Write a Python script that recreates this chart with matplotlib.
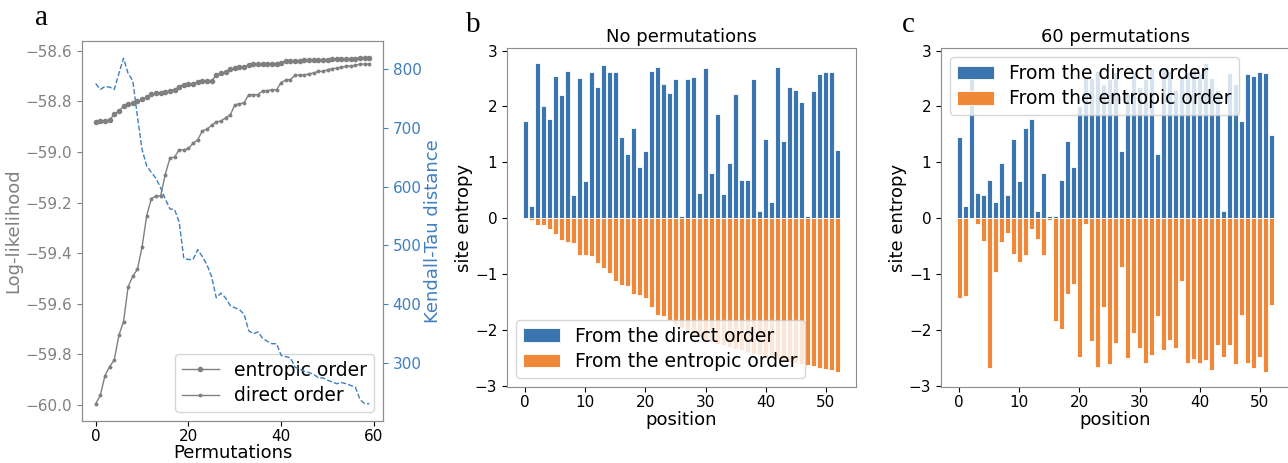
import matplotlib
matplotlib.use("Agg")
import matplotlib.pyplot as plt
import numpy as np

# ---------------- data ----------------
permutations = list(range(60))

ll_entropic = [-58.880, -58.878, -58.877, -58.873, -58.851, -58.839, -58.818, -58.811, -58.806, -58.800,
               -58.792, -58.783, -58.772, -58.767, -58.766, -58.764, -58.757, -58.753, -58.741, -58.733,
               -58.730, -58.730, -58.721, -58.720, -58.720, -58.719, -58.695, -58.689, -58.684, -58.673,
               -58.668, -58.665, -58.663, -58.657, -58.653, -58.651, -58.650, -58.650, -58.650, -58.650,
               -58.647, -58.638, -58.638, -58.638, -58.638, -58.637, -58.637, -58.635, -58.635, -58.634,
               -58.634, -58.633, -58.633, -58.631, -58.631, -58.630, -58.630, -58.629, -58.629, -58.629]

ll_direct = [-59.996, -59.963, -59.885, -59.849, -59.823, -59.725, -59.671, -59.533, -59.491, -59.464,
             -59.376, -59.252, -59.184, -59.174, -59.174, -59.089, -59.024, -59.020, -58.991, -58.991,
             -58.986, -58.965, -58.952, -58.916, -58.910, -58.894, -58.880, -58.878, -58.864, -58.854,
             -58.813, -58.809, -58.805, -58.773, -58.773, -58.773, -58.757, -58.757, -58.754, -58.753,
             -58.725, -58.715, -58.713, -58.696, -58.696, -58.695, -58.691, -58.687, -58.681, -58.681,
             -58.674, -58.670, -58.668, -58.665, -58.660, -58.659, -58.657, -58.652, -58.652, -58.652]

kendall_tau = [775, 765, 770, 769, 765, 792, 818, 792, 780, 719,
               663, 635, 624, 614, 598, 579, 562, 561, 540, 478,
               476, 476, 493, 481, 467, 447, 411, 419, 411, 398,
               394, 391, 383, 355, 350, 353, 342, 337, 333, 333,
               313, 311, 309, 293, 290, 286, 284, 281, 275, 275,
               271, 268, 265, 267, 265, 262, 259, 238, 231, 231]

positions = list(range(53))

b_direct = [1.74, 0.21, 2.77, 2.00, 1.78, 2.55, 2.21, 2.63, 0.41, 2.50,
            0.67, 2.61, 2.35, 2.75, 2.61, 2.61, 1.45, 1.15, 1.62, 0.91,
            1.21, 2.64, 2.71, 2.40, 2.24, 2.49, 0.03, 2.49, 2.53, 0.45,
            2.68, 0.81, 1.87, 0.43, 0.99, 2.23, 0.69, 0.69, 2.49, 0.13,
            1.41, 0.28, 2.70, 1.38, 2.34, 2.30, 2.08, 0.04, 2.28, 2.58,
            2.61, 2.62, 1.22]

b_entropic = [-0.02, -0.04, -0.12, -0.12, -0.20, -0.28, -0.40, -0.43, -0.44, -0.66,
              -0.67, -0.68, -0.80, -0.89, -0.98, -1.13, -1.20, -1.21, -1.36, -1.37,
              -1.43, -1.60, -1.73, -1.76, -1.82, -1.90, -1.97, -2.02, -2.08, -2.13,
              -2.18, -2.22, -2.25, -2.28, -2.31, -2.34, -2.37, -2.40, -2.43, -2.46,
              -2.49, -2.51, -2.53, -2.55, -2.57, -2.59, -2.61, -2.63, -2.65, -2.68,
              -2.70, -2.72, -2.75]

c_direct = [1.45, 0.21, 2.75, 0.45, 0.42, 0.69, 0.28, 0.99, 0.41, 1.41,
            0.67, 1.62, 1.78, 0.13, 0.81, 0.04, 0.03, 0.69, 1.38, 0.91,
            2.00, 2.55, 2.50, 2.63, 2.40, 2.49, 2.61, 1.21, 2.23, 2.61,
            2.34, 2.49, 2.68, 1.15, 2.70, 2.64, 2.30, 2.50, 2.61, 2.71,
            2.60, 2.77, 2.50, 2.30, 0.12, 2.60, 2.40, 1.74, 2.58, 2.55,
            2.61, 2.60, 1.48]

c_entropic = [-1.43, -1.39, -0.01, -0.11, -0.41, -2.68, -0.97, -0.43, -0.26, -0.65,
              -0.79, -0.67, -0.19, -0.38, -0.67, -0.03, -1.85, -1.99, -1.36, -1.19,
              -2.48, -0.10, -2.21, -2.67, -1.60, -2.62, -2.23, -0.88, -2.50, -2.06,
              -2.33, -2.59, -2.46, -1.76, -2.37, -2.18, -2.33, -1.12, -2.59, -2.52,
              -2.59, -2.55, -2.73, -2.27, -2.49, -2.27, -2.61, -1.73, -2.59, -2.68,
              -2.48, -2.75, -1.55]

ll_ticks = [-60.0, -59.8, -59.6, -59.4, -59.2, -59.0, -58.8, -58.6]
kt_ticks = [300, 400, 500, 600, 700, 800]
perm_ticks = [0, 20, 40, 60]
pos_ticks = [0, 10, 20, 30, 40, 50]
entropy_ticks = [-3, -2, -1, 0, 1, 2, 3]

# ---------------- style ----------------
W, H = 1288, 463
fig = plt.figure(figsize=(W / 100, H / 100), dpi=100)
plt.rcParams['font.family'] = ['DejaVu Sans']

GRAY = '#808080'
KT_BLUE = '#3f7fc0'
BAR_BLUE = '#3a75b0'
BAR_ORANGE = '#f0883a'
SPINE = '#8c8c8c'
TICK_FS = 11
LABEL_FS = 13
LEG_FS = 13.5
LETTER_FONT = ['Liberation Serif', 'DejaVu Serif']

def frac(l, t, r, b):
    return [l / W, 1 - b / H, (r - l) / W, (b - t) / H]

# ---------------- panel a ----------------
axa = fig.add_axes(frac(82, 41, 383, 421))
axa.plot(permutations, ll_entropic, color=GRAY, marker='o', markersize=3.0,
         linewidth=1.0, label='entropic order')
axa.plot(permutations, ll_direct, color=GRAY, marker='o', markersize=1.8,
         linewidth=1.0, label='direct order')
axa.set_yticks(ll_ticks)
axa.set_yticklabels([f"{v:.1f}".replace('-', '\u2212') for v in ll_ticks])
axa.set_xticks(perm_ticks)
axa.set_ylabel('Log-likelihood', color=GRAY, fontsize=LABEL_FS, labelpad=2)
axa.set_xlabel('Permutations', fontsize=LABEL_FS, labelpad=0.5)
axa.tick_params(axis='y', colors=GRAY, labelsize=TICK_FS)
axa.tick_params(axis='x', labelsize=TICK_FS, pad=2)
for s in axa.spines.values():
    s.set_color(SPINE)
axa.legend(loc='lower right', fontsize=LEG_FS, framealpha=0.8,
           borderpad=0.35, labelspacing=0.35)

axk = axa.twinx()
axk.plot(permutations, kendall_tau, color=KT_BLUE, linestyle='--', linewidth=1.0)
axk.set_yticks(kt_ticks)
axk.set_ylabel('Kendall-Tau distance', color=KT_BLUE, fontsize=LABEL_FS, labelpad=2)
axk.tick_params(axis='y', colors=KT_BLUE, labelsize=TICK_FS)
for s in axk.spines.values():
    s.set_color(SPINE)

fig.text(42 / W, 1 - 18 / H, 'a', fontsize=21, family=LETTER_FONT, ha='center', va='center')

# ---------------- panels b, c ----------------
def bar_panel(rect, direct, entropic, title, legend_loc):
    ax = fig.add_axes(rect)
    ax.bar(positions, direct, width=0.8, color=BAR_BLUE, edgecolor='white',
           linewidth=0.6, label='From the direct order')
    ax.bar(positions, entropic, width=0.8, color=BAR_ORANGE, edgecolor='white',
           linewidth=0.6, label='From the entropic order')
    ax.set_xticks(pos_ticks)
    ax.set_yticks(entropy_ticks)
    ax.set_yticklabels([str(v).replace('-', '\u2212') for v in entropy_ticks])
    ax.tick_params(labelsize=TICK_FS)
    ax.tick_params(axis='x', pad=2)
    ax.set_xlabel('position', fontsize=LABEL_FS, labelpad=1)
    ax.set_ylabel('site entropy', fontsize=LABEL_FS, labelpad=1)
    ax.set_title(title, fontsize=LABEL_FS, pad=4)
    for s in ax.spines.values():
        s.set_color(SPINE)
    ax.legend(loc=legend_loc, fontsize=LEG_FS, framealpha=0.8,
              borderpad=0.35, labelspacing=0.35)
    return ax

bar_panel(frac(507, 48, 856, 387), b_direct, b_entropic, 'No permutations', 'lower left')
fig.text(473 / W, 1 - 25 / H, 'b', fontsize=21, family=LETTER_FONT, ha='center', va='center')

bar_panel(frac(941, 48, 1290, 387), c_direct, c_entropic, '60 permutations', 'upper left')
fig.text(908 / W, 1 - 25 / H, 'c', fontsize=21, family=LETTER_FONT, ha='center', va='center')

fig.savefig('out.png', dpi=100)
